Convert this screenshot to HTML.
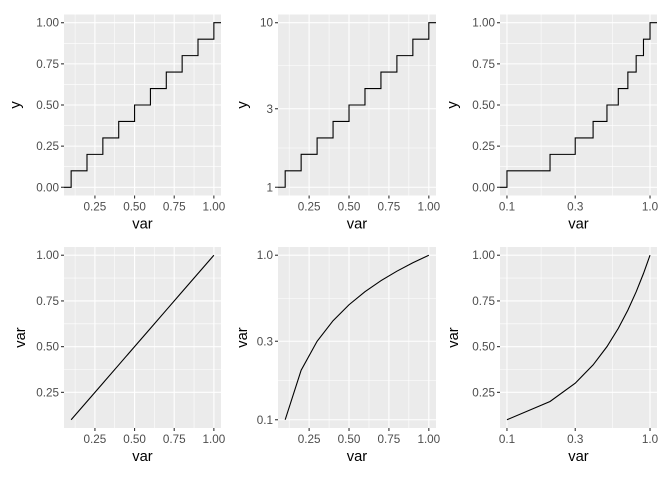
<!DOCTYPE html>
<html><head><meta charset="utf-8"><style>
body{margin:0;background:#fff}
svg{display:block;font-family:"Liberation Sans",sans-serif}
</style></head><body>
<svg id="c" width="672" height="480"></svg>
<script>
const vars=[0.1,0.2,0.3,0.4,0.5,0.6,0.7,0.8,0.9,1.0];
const ecdfY=[0.1,0.2,0.3,0.4,0.5,0.6,0.7,0.8,0.9,1.0];
const ecdfLogY=[1.259,1.585,1.995,2.512,3.162,3.981,5.012,6.310,7.943,10];
const linTicks=[0,0.25,0.5,0.75,1.0];
const linTickLabels=["0.00","0.25","0.50","0.75","1.00"];
const xTicks=[0.25,0.5,0.75,1.0];
const xTickLabels=["0.25","0.50","0.75","1.00"];
const logXTicks=[0.1,0.3,1.0];
const logXTickLabels=["0.1","0.3","1.0"];
const logYTicks=[1,3,10];
const logYTickLabels=["1","3","10"];
const logY01Ticks=[0.1,0.3,1.0];
const logY01Labels=["0.1","0.3","1.0"];
const bTicks=[0.25,0.5,0.75,1.0];
const bTickLabels=["0.25","0.50","0.75","1.00"];

const NS="http://www.w3.org/2000/svg";
const svg=document.getElementById('c');
function mk(t,a,p){const e=document.createElementNS(NS,t);for(const k in a)e.setAttribute(k,a[k]);(p||svg).appendChild(e);return e;}
function scale(type,d0,d1,r0,r1){
  if(type==='log'){const a=Math.log10(d0),b=Math.log10(d1);return v=>r0+(Math.log10(v)-a)/(b-a)*(r1-r0);}
  return v=>r0+(v-d0)/(d1-d0)*(r1-r0);
}
function minors(type,t){const m=[];for(let i=0;i<t.length-1;i++)m.push(type==='log'?Math.sqrt(t[i]*t[i+1]):(t[i]+t[i+1])/2);return m;}

function panel(o){
  const g=mk('g',{});
  
  
  const bg=mk('rect',{x:o.x0,y:o.y0,width:o.x1-o.x0,height:o.y1-o.y0,fill:'#EBEBEB'},g);
  
  const sx=scale(o.xt,o.xd[0],o.xd[1],o.x0,o.x1), sy=scale(o.yt,o.yd[0],o.yd[1],o.y1,o.y0);
  let xm=minors(o.xt,o.xb), ym=minors(o.yt,o.yb);
  if(o.xt!=='log'){xm=xm.concat([o.xb[0]-(o.xb[1]-o.xb[0])/2]);}
  xm.forEach(v=>{const X=sx(v);if(X>o.x0&&X<o.x1){const l=mk('line',{x1:X,x2:X,y1:o.y0,y2:o.y1,stroke:'#fff','stroke-width':0.55},g);}});
  ym.forEach(v=>{const Y=sy(v);const l=mk('line',{x1:o.x0,x2:o.x1,y1:Y,y2:Y,stroke:'#fff','stroke-width':0.55},g);});
  o.xb.forEach((v,i)=>{const X=sx(v);
    const l=mk('line',{x1:X,x2:X,y1:o.y0,y2:o.y1,stroke:'#fff','stroke-width':1.1},g);
    const tk=mk('line',{x1:X,x2:X,y1:o.y1,y2:o.y1+3,stroke:'#333','stroke-width':1.1},g);
    const t=mk('text',{x:X,y:o.y1+15,'text-anchor':'middle','font-size':11.7,fill:'#4D4D4D'},g);t.textContent=o.xl[i];});
  o.yb.forEach((v,i)=>{const Y=sy(v);
    const l=mk('line',{x1:o.x0,x2:o.x1,y1:Y,y2:Y,stroke:'#fff','stroke-width':1.1},g);
    const tk=mk('line',{x1:o.x0-3,x2:o.x0,y1:Y,y2:Y,stroke:'#333','stroke-width':1.1},g);
    const t=mk('text',{x:o.x0-5,y:Y+4,'text-anchor':'end','font-size':11.7,fill:'#4D4D4D'},g);t.textContent=o.yl[i];});
  let pts=[];
  if(o.step){
    let prevY=sy(o.yd[0]<=0?0:o.ys0);
    pts.push([o.x0,prevY]);
    o.xs.forEach((v,i)=>{const X=sx(v);pts.push([X,prevY]);prevY=sy(o.ys[i]);pts.push([X,prevY]);});
    pts.push([o.x1,prevY]);
  } else pts=o.xs.map((v,i)=>[sx(v),sy(o.ys[i])]);
  const p=mk('polyline',{points:pts.map(q=>q.join(',')).join(' '),fill:'none',stroke:'#000','stroke-width':o.step?1.1:1.1},g);
  
  const xt=mk('text',{x:(o.x0+o.x1)/2,y:o.y1+33,'text-anchor':'middle','font-size':14.7,fill:'#000'},g);xt.textContent='var';
  
  const yt=mk('text',{x:0,y:0,'text-anchor':'middle','font-size':14.7,fill:'#000',transform:`translate(${o.ytx},${(o.y0+o.y1)/2}) rotate(-90)`},g);yt.textContent=o.ytitle;
  
}
const T0=14.5,T1=195.5,B0=247,B1=428;
const L=[64,221],M=[278,436],R=[500,657];
const linX=[0.055,1.045], logX=[0.0894,1.1188];
panel({name:'panel-ecdf-linear',x0:L[0],x1:L[1],y0:T0,y1:T1,xt:'lin',xd:linX,yt:'lin',yd:[-0.05,1.05],xb:xTicks,xl:xTickLabels,yb:linTicks,yl:linTickLabels,xs:vars,ys:ecdfY,ys0:0,step:true,ytitle:'y',ytx:20});
panel({name:'panel-ecdf-logy',x0:M[0],x1:M[1],y0:T0,y1:T1,xt:'lin',xd:linX,yt:'log',yd:[0.891,11.22],xb:xTicks,xl:xTickLabels,yb:logYTicks,yl:logYTickLabels,xs:vars,ys:ecdfLogY,ys0:1,step:true,ytitle:'y',ytx:247});
panel({name:'panel-ecdf-logx',x0:R[0],x1:R[1],y0:T0,y1:T1,xt:'log',xd:logX,yt:'lin',yd:[-0.05,1.05],xb:logXTicks,xl:logXTickLabels,yb:linTicks,yl:linTickLabels,xs:vars,ys:ecdfY,ys0:0,step:true,ytitle:'y',ytx:457});
panel({name:'panel-line-linear',x0:L[0],x1:L[1],y0:B0,y1:B1,xt:'lin',xd:linX,yt:'lin',yd:[0.055,1.045],xb:bTicks,xl:bTickLabels,yb:[0.25,0.5,0.75,1.0],yl:["0.25","0.50","0.75","1.00"],xs:vars,ys:vars,step:false,ytitle:'var',ytx:25});
panel({name:'panel-line-logy',x0:M[0],x1:M[1],y0:B0,y1:B1,xt:'lin',xd:linX,yt:'log',yd:[0.0891,1.122],xb:bTicks,xl:bTickLabels,yb:logY01Ticks,yl:logY01Labels,xs:vars,ys:vars,step:false,ytitle:'var',ytx:247});
panel({name:'panel-line-logx',x0:R[0],x1:R[1],y0:B0,y1:B1,xt:'log',xd:logX,yt:'lin',yd:[0.055,1.045],xb:logXTicks,xl:logXTickLabels,yb:[0.25,0.5,0.75,1.0],yl:["0.25","0.50","0.75","1.00"],xs:vars,ys:vars,step:false,ytitle:'var',ytx:458});
</script>
</body></html>
